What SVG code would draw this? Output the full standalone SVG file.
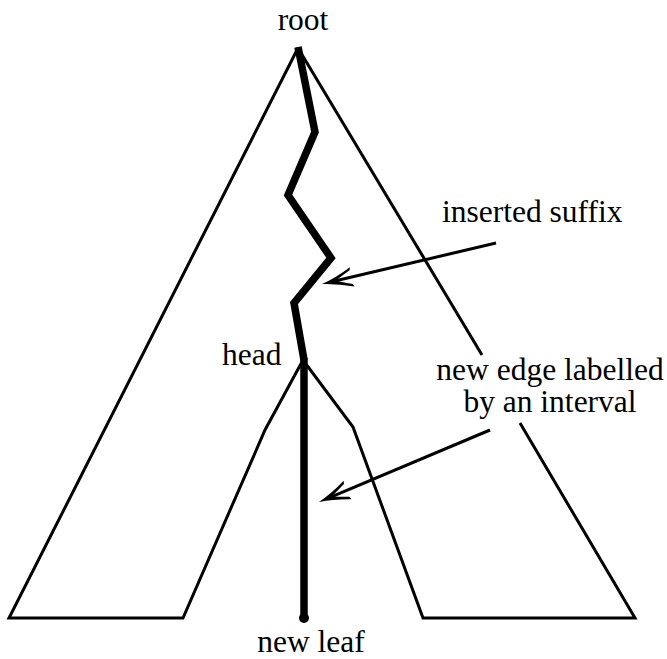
<svg xmlns="http://www.w3.org/2000/svg" xmlns:xlink="http://www.w3.org/1999/xlink" width="667" height="659" viewBox="0 0 667 659">
<style>
.thin{fill:none;stroke:#000;stroke-width:3;stroke-linejoin:miter}
.thick{fill:none;stroke:#000;stroke-width:7.5;stroke-linejoin:miter}
.lbl{font-family:"Liberation Serif","Times New Roman",serif;font-size:31.5px;fill:#000}
</style>
<defs>
<path id="ah" d="M0,0 Q-15,-3 -31,-10 L-30,-7 Q-18,-2 -14,0 Q-18,2 -30,7 L-31,10 Q-15,3 0,0 Z" fill="#000"/>
</defs>
<rect width="667" height="659" fill="#fff"/>
<g id="tree">
<path class="thin" d="M298,48 L9,618 L183,618 L265,430 L303,360 L353,427 L423,618 L635,618 L520,423"/>
<path class="thin" d="M298,48 L482,355"/>
</g>
<g id="path-root-head">
<path class="thick" d="M298,47 L315,132 L288,195 L331,258 L294,303 L304,360"/>
</g>
<g id="new-edge">
<path class="thick" d="M304,358 L304,617"/>
<circle cx="304" cy="618" r="5" fill="#000"/>
</g>
<g id="labels">
<text class="lbl" x="303" y="30" text-anchor="middle">root</text>
<text class="lbl" x="222" y="365">head</text>
<text class="lbl" x="442" y="222">inserted suffix</text>
<text class="lbl" x="550" y="380" text-anchor="middle">new edge labelled</text>
<text class="lbl" x="550" y="412" text-anchor="middle">by an interval</text>
<text class="lbl" x="311" y="652" text-anchor="middle">new leaf</text>
</g>
<g id="connectors">
<path class="thin" d="M496,243 L333.7,281.3"/>
<use xlink:href="#ah" transform="translate(322,284) rotate(166.74)"/>
<path class="thin" d="M490,430 L330.1,497.3"/>
<use xlink:href="#ah" transform="translate(319,502) rotate(157.17)"/>
</g>
</svg>
